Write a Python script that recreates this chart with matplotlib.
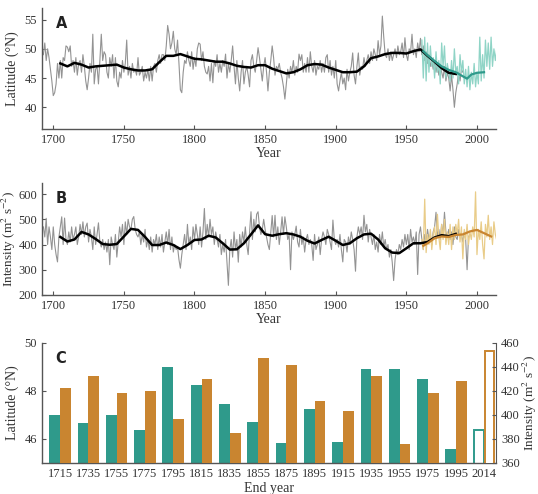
import numpy as np
import matplotlib
matplotlib.use("Agg")
import matplotlib.pyplot as plt

plt.rcParams['font.family'] = ['Liberation Serif', 'DejaVu Serif']
plt.rcParams['mathtext.fontset'] = 'stix'

# ---------- panel A: latitude ----------
lat_grey = [
    49, 51, 48, 50, 48.5, 46.5, 44.5,                       # 1693-1699
    42, 42.5, 44, 47.5, 45, 48, 45, 48.5, 48, 50.5,         # 1700s
    50.3, 49.5, 50.5, 47, 48, 46, 48.5, 45.5, 47.5, 48,     # 1710s
    46, 49, 47, 44.5, 43, 45, 47.5, 46, 52.5, 44,           # 1720s
    46.5, 47, 44, 48, 52.5, 48, 49.5, 49, 46, 45,           # 1730s
    48.5, 47, 49, 45, 48.5, 44.5, 43.5, 46, 45, 48,         # 1740s
    46, 47.5, 51.5, 45.5, 47, 45, 47.5, 46, 46.5, 45.5,     # 1750s
    48.5, 45.5, 46, 47, 44.5, 46, 45, 46.5, 44.5, 47,       # 1760s
    44.5, 47, 47.5, 46, 48, 49, 47.5, 49, 49, 48,           # 1770s
    50.5, 54, 52.5, 50, 51, 53, 50, 49, 51.5, 47.5,         # 1780s
    43, 42.5, 46, 48, 47.5, 49.5, 48, 47, 49.5, 46.5,       # 1790s
    48.5, 47, 50, 51, 50.8, 48, 49.5, 47, 46, 45.7,         # 1800s
    47, 44.5, 47.5, 44.2, 48, 47, 49, 46, 47.5, 46,         # 1810s
    48, 47, 49.1, 45, 47.5, 46, 48, 50.5, 47, 44,           # 1820s
    48, 45, 42.8, 46, 48, 44, 46, 47, 45.5, 43.5,           # 1830s
    48, 49, 47, 46, 48, 50.2, 48.5, 46.5, 44.5, 47,         # 1840s
    48.5, 46, 42.8, 46, 48, 50.5, 48.5, 45.5, 47, 46.5,     # 1850s
    47.5, 46, 45, 43.5, 41.4, 44, 46.5, 45, 47, 46,         # 1860s
    48, 45.5, 47, 46, 49.1, 48, 49, 46, 47.5, 46,           # 1870s
    48.5, 46, 49.5, 47, 46, 48, 45.5, 47, 46.5, 48,         # 1880s
    46, 47.5, 46, 48.5, 49, 46, 48, 45.5, 47, 45,           # 1890s
    48, 44, 42.8, 44.5, 46, 44, 45, 43, 46.5, 44.5,         # 1900s
    46, 47, 49.3, 45.5, 44, 47, 49.3, 45.5, 47, 46.5,       # 1910s
    48.5, 47, 48, 49, 47.5, 49.5, 48, 50, 49, 48,           # 1920s
    51.4, 49, 50.5, 55.6, 52, 49, 48.5, 50, 48, 49.5,       # 1930s
    48, 49, 50, 48.5, 50.5, 49, 49.5, 51, 48.5, 51.9,       # 1940s
    49, 48, 50, 49.5, 52.5, 49, 50, 48.5, 51, 49.5,         # 1950s
    51.8, 49, 50.5, 48, 49.5, 47.5, 49, 47, 48, 46.5,       # 1960s
    48, 46, 47.5, 45.5, 47, 46, 45, 47, 44.5, 46,           # 1970s
    45, 42.8, 45.5, 43, 40.0, 42.5, 44, 46, 44.5, 46.5,     # 1980s
    46,                                                     # 1990
]
lat_grey_years = np.arange(1693, 1693 + len(lat_grey))

lat_smooth_years = np.arange(1705, 1990, 5)
lat_smooth = [47.5, 47.0, 47.6, 47.3, 46.8, 47.0, 47.1, 47.2, 47.3, 46.8,
              46.5, 46.3, 46.3, 46.5, 47.7, 48.8, 48.8, 49.1, 48.7, 48.3,
              48.2, 48.0, 47.8, 47.8, 47.5, 47.1, 46.9, 46.8, 47.2, 47.2,
              46.6, 46.2, 45.8, 46.0, 46.5, 47.2, 47.4, 47.3, 46.8, 46.4,
              46.0, 46.0, 46.1, 47.0, 48.4, 48.7, 49.1, 49.3, 49.3, 49.2,
              49.6, 49.9, 48.8, 47.8, 46.7, 45.9, 45.7]

lat_new = [51.5, 45, 52, 44.5, 51, 46, 50.5, 47, 48.5, 45,      # 1961-1970
           49.5, 46, 48, 44, 51, 47, 50.5, 45, 47.5, 46,        # 1971-1980
           44.5, 48, 45, 50, 46, 47, 44, 49, 46, 48,            # 1981-1990
           44, 46.5, 43.5, 47, 43, 46, 44, 47.5, 43.5, 46,      # 1991-2000
           44, 52, 44.5, 49, 45, 51.5, 47, 51, 46.5, 52,        # 2001-2010
           47, 50, 48, 50]                                      # 2011-2014
lat_new_years = np.arange(1961, 1961 + len(lat_new))

lat_new_smooth_years = [1962, 1965, 1970, 1975, 1980, 1985, 1990, 1993, 1996, 2000, 2005]
lat_new_smooth = [49.6, 48.9, 47.9, 47.0, 46.4, 46.0, 45.3, 44.9, 45.6, 45.9, 46.0]

# ---------- panel B: intensity ----------
int_grey = [
    470, 430, 504, 400, 470, 430, 380,                      # 1693-1699
    470, 400, 360, 331, 430, 470, 510, 400, 505, 420,       # 1700s
    400, 450, 410, 470, 420, 440, 470, 400, 430, 480,       # 1710s
    440, 490, 430, 470, 485, 410, 460, 430, 380, 470,       # 1720s
    400, 440, 486, 410, 390, 420, 380, 410, 370, 420,       # 1730s
    320, 430, 400, 380, 440, 350, 410, 470, 430, 480,       # 1740s
    400, 490, 440, 500, 470, 460, 500, 511, 460, 440,       # 1750s
    430, 450, 400, 440, 410, 460, 390, 420, 380, 430,       # 1760s
    370, 420, 400, 440, 380, 430, 390, 440, 370, 410,       # 1770s
    450, 400, 460, 380, 430, 370, 400, 380, 390, 340,       # 1780s
    306, 360, 400, 440, 380, 480, 400, 430, 380, 470,       # 1790s
    420, 480, 440, 400, 470, 390, 450, 543, 420, 480,       # 1800s
    430, 500, 440, 470, 400, 450, 420, 390, 440, 360,       # 1810s
    400, 370, 420, 330, 238, 380, 420, 350, 450, 380,       # 1820s
    420, 330, 440, 390, 450, 410, 470, 400, 360, 450,       # 1830s
    530, 420, 500, 450, 520, 530, 470, 440, 460, 500,       # 1840s
    460, 430, 400, 380, 450, 515, 430, 516, 420, 470,       # 1850s
    400, 450, 510, 440, 510, 470, 420, 440, 300, 450,       # 1860s
    420, 440, 473, 410, 390, 460, 400, 430, 370, 420,       # 1870s
    440, 400, 420, 400, 337, 440, 380, 400, 430, 360,       # 1880s
    420, 450, 430, 400, 460, 440, 410, 380, 497, 420,       # 1890s
    400, 420, 390, 440, 380, 331, 420, 410, 370, 430,       # 1900s
    400, 450, 420, 380, 294, 430, 470, 440, 470, 420,       # 1910s
    516, 450, 480, 410, 460, 430, 400, 440, 380, 410,       # 1920s
    370, 440, 400, 450, 390, 420, 380, 400, 350, 380,       # 1930s
    330, 257, 340, 380, 360, 400, 380, 420, 390, 440,       # 1940s
    400, 440, 380, 460, 410, 430, 400, 450, 281, 440,       # 1950s
    470, 420, 380, 440, 410, 460, 420, 440, 400, 450,       # 1960s
    470, 528, 430, 460, 420, 480, 440, 528, 450, 430,       # 1970s
    460, 420, 450, 400, 470, 430, 420, 460, 430, 440,       # 1980s
    410, 450, 420, 300, 430, 440,                           # 1990-1995
]
int_grey_years = np.arange(1693, 1693 + len(int_grey))

int_smooth_years = np.arange(1705, 1990, 5)
int_smooth = [430, 412, 420, 450, 440, 422, 402, 399, 402, 432,
              462, 458, 430, 398, 398, 408, 398, 382, 398, 418,
              420, 435, 428, 405, 380, 381, 405, 440, 476, 441,
              435, 441, 445, 440, 431, 415, 404, 418, 431, 415,
              398, 405, 425, 440, 443, 420, 385, 368, 366, 385,
              405, 405, 410, 428, 437, 433, 442]

int_new = [420, 380, 580, 368, 440, 400, 460, 380, 440, 470,    # 1961-1970
           400, 520, 430, 380, 480, 420, 500, 400, 450, 400,    # 1971-1980
           480, 380, 470, 420, 480, 440, 500, 410, 470, 343,    # 1981-1990
           460, 420, 480, 400, 450, 420, 470, 430, 609, 360,    # 1991-2000
           460, 420, 490, 400, 343, 480, 430, 516, 420, 470,    # 2001-2010
           400, 490, 440, 417]                                  # 2011-2014
int_new_years = np.arange(1961, 1961 + len(int_new))

int_new_smooth_years = [1962, 1965, 1970, 1975, 1980, 1985, 1990, 1995, 2000, 2005, 2010]
int_new_smooth = [395, 405, 425, 432, 430, 438, 440, 452, 458, 445, 432]

# ---------- panel C: bars ----------
end_years = ['1715', '1735', '1755', '1775', '1795', '1815', '1835', '1855',
             '1875', '1895', '1915', '1935', '1955', '1975', '1995', '2014']
bar_lat = [47.01, 46.68, 46.99, 46.39, 49.0, 48.24, 47.44, 46.71,
           45.81, 47.25, 45.88, 48.9, 48.9, 48.49, 45.58, 46.39]
bar_int = [422.2, 432.5, 418.6, 419.7, 396.4, 429.7, 385.3, 447.0,
           441.9, 411.4, 403.0, 432.0, 375.8, 418.6, 428.3, 453.0]

teal = '#2f9a8b'
teal_light = '#8fd4c6'
orange = '#c98530'
orange_light = '#e9cc88'
grey = '#939393'
spine_c = '#555555'
txt_c = '#333333'

fig = plt.figure(figsize=(5.38, 4.94), dpi=100)
axA = fig.add_axes([0.078, 0.739, 0.844, 0.245])
axB = fig.add_axes([0.078, 0.403, 0.844, 0.227])
axC = fig.add_axes([0.078, 0.063, 0.844, 0.243])


def style(ax):
    for s in ['top', 'right']:
        ax.spines[s].set_visible(False)
    for s in ['left', 'bottom']:
        ax.spines[s].set_color(spine_c)
        ax.spines[s].set_linewidth(1.0)
    ax.tick_params(direction='in', length=3, colors=spine_c, labelcolor=txt_c,
                   labelsize=9)


# A
axA.plot(lat_grey_years, lat_grey, color=grey, lw=0.8)
axA.plot(lat_new_years, lat_new, color=teal_light, lw=0.9)
axA.plot(lat_smooth_years, lat_smooth, color='black', lw=1.8)
axA.plot(lat_new_smooth_years, lat_new_smooth, color=teal, lw=1.6)
axA.set_xlim(1692, 2013.5)
axA.set_ylim(36.3, 57)
axA.set_xticks([1700, 1750, 1800, 1850, 1900, 1950, 2000])
axA.set_yticks([40, 45, 50, 55])
axA.set_xlabel('Year', fontsize=10, color=txt_c, labelpad=1)
axA.set_ylabel('Latitude (°N)', fontsize=10, color=txt_c, labelpad=4)
style(axA)
axA.text(0.03, 0.93, 'A', transform=axA.transAxes, fontsize=10.5, fontweight='bold',
         family='DejaVu Sans', va='top', color='#222222')

# B
axB.plot(int_grey_years, int_grey, color=grey, lw=0.8)
axB.plot(int_new_years, int_new, color=orange_light, lw=0.9)
axB.plot(int_smooth_years, int_smooth, color='black', lw=1.8)
axB.plot(int_new_smooth_years, int_new_smooth, color=orange, lw=1.6)
axB.set_xlim(1692, 2013.5)
axB.set_ylim(200, 645)
axB.set_xticks([1700, 1750, 1800, 1850, 1900, 1950, 2000])
axB.set_yticks([200, 300, 400, 500, 600])
axB.set_xlabel('Year', fontsize=10, color=txt_c, labelpad=1)
axB.set_ylabel('Intensity (m$^2$ s$^{-2}$)', fontsize=9.5, color=txt_c, labelpad=0)
style(axB)
axB.text(0.03, 0.93, 'B', transform=axB.transAxes, fontsize=10.5, fontweight='bold',
         family='DejaVu Sans', va='top', color='#222222')

# C
x = np.arange(len(end_years))
w = 0.38
axC.bar(x[:-1] - w / 2, bar_lat[:-1], width=w, color=teal)
axC.bar(x[-1] - w / 2, bar_lat[-1], width=w - 0.05, color='white', edgecolor=teal, lw=1.4)
axC.set_ylim(45, 50)
axC.set_yticks([46, 48, 50])
axC.set_xlim(-0.64, 15.41)
axC.set_xticks(x)
axC.set_xticklabels(end_years)
axC.set_xlabel('End year', fontsize=10, color=txt_c, labelpad=1)
axC.set_ylabel('Latitude (°N)', fontsize=10, color=txt_c, labelpad=4)
style(axC)
axC.tick_params(axis='x', length=0, pad=4)

axC2 = axC.twinx()
axC2.bar(x[:-1] + w / 2, bar_int[:-1], width=w, color=orange)
axC2.bar(x[-1] + w / 2, bar_int[-1], width=w - 0.05, color='white', edgecolor=orange, lw=1.4)
axC2.set_ylim(360, 460)
axC2.set_yticks([360, 380, 400, 420, 440, 460])
axC2.spines['top'].set_visible(False)
axC2.spines['left'].set_visible(False)
axC2.spines['bottom'].set_visible(False)
axC2.spines['right'].set_color(spine_c)
axC2.tick_params(direction='in', length=3, colors=spine_c, labelcolor=txt_c, labelsize=9)
axC2.set_ylabel('Intensity (m$^2$ s$^{-2}$)', fontsize=9.5, color=txt_c, labelpad=1)
axC.text(0.03, 0.93, 'C', transform=axC.transAxes, fontsize=10.5, fontweight='bold',
         family='DejaVu Sans', va='top', color='#222222')

fig.savefig('out.png', dpi=100)
